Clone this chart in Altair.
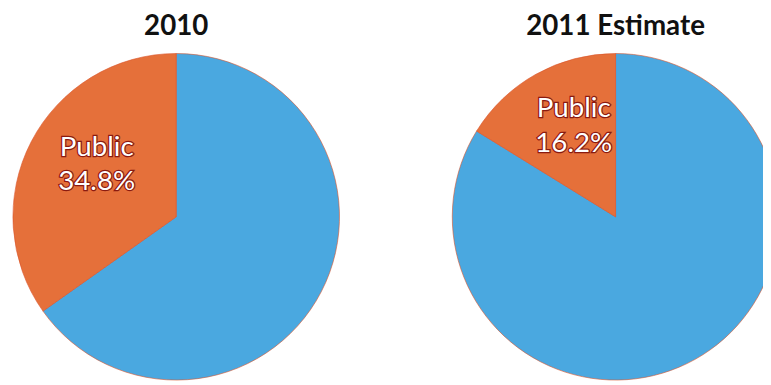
import math
import altair as alt
import pandas as pd

years = ["2010", "2011 Estimate"]
public_share = [34.8, 16.2]
categories = ["Other", "Public"]
colors = ["#4AA8E0", "#E5703A"]

rows = []
for y, p in zip(years, public_share):
    rows.append({"year": y, "cat": "Other", "value": round(100 - p, 1), "ord": 0, "label": ""})
    rows.append({"year": y, "cat": "Public", "value": p, "ord": 1, "label": f"Public\n{p}%"})
df = pd.DataFrame(rows)

xscale = alt.Scale(type="point", domain=years, range=[170, 614], padding=0)
tscale = alt.Scale(domain=[0, 100], range=[0, 2 * math.pi])

base = alt.Chart(df).transform_stack(
    stack="value", as_=["v0", "v1"], groupby=["year"], sort=[alt.SortField("ord")]
).transform_calculate(mid="(datum.v0 + datum.v1) / 2")

pies = base.mark_arc(radius=165, stroke="#D9542A", strokeWidth=0.6).encode(
    x=alt.X("year:N", scale=xscale, axis=None),
    y=alt.value(209),
    theta=alt.Theta("v0:Q", scale=tscale),
    theta2="v1:Q",
    color=alt.Color("cat:N", scale=alt.Scale(domain=categories, range=colors), legend=None),
)

text_props = dict(
    radius=95, font="Lato", fontSize=28, lineBreak="\n", lineHeight=35,
    baseline="middle", align="center", dy=-26, dx=4,
)

label_outline = base.mark_text(
    fill="white", stroke="#8B1A10", strokeWidth=2.5, **text_props
).encode(
    x=alt.X("year:N", scale=xscale, axis=None),
    y=alt.value(209),
    theta=alt.Theta("mid:Q", scale=tscale),
    text="label:N",
)

label_fill = base.mark_text(fill="white", **text_props).encode(
    x=alt.X("year:N", scale=xscale, axis=None),
    y=alt.value(209),
    theta=alt.Theta("mid:Q", scale=tscale),
    text="label:N",
)

titles = alt.Chart(df).transform_filter(alt.datum.cat == "Public").mark_text(
    font="Lato", fontSize=28, fontWeight="bold", color="#111111", baseline="middle", align="center"
).encode(
    x=alt.X("year:N", scale=xscale, axis=None),
    y=alt.value(17),
    text="year:N",
)

chart = alt.layer(pies, label_outline, label_fill, titles).properties(
    width=763, height=377, padding=0, autosize=alt.AutoSizeParams(type="none")
).configure_view(stroke=None)

chart.save("out.html", embed_options={"renderer": "svg", "actions": False})
